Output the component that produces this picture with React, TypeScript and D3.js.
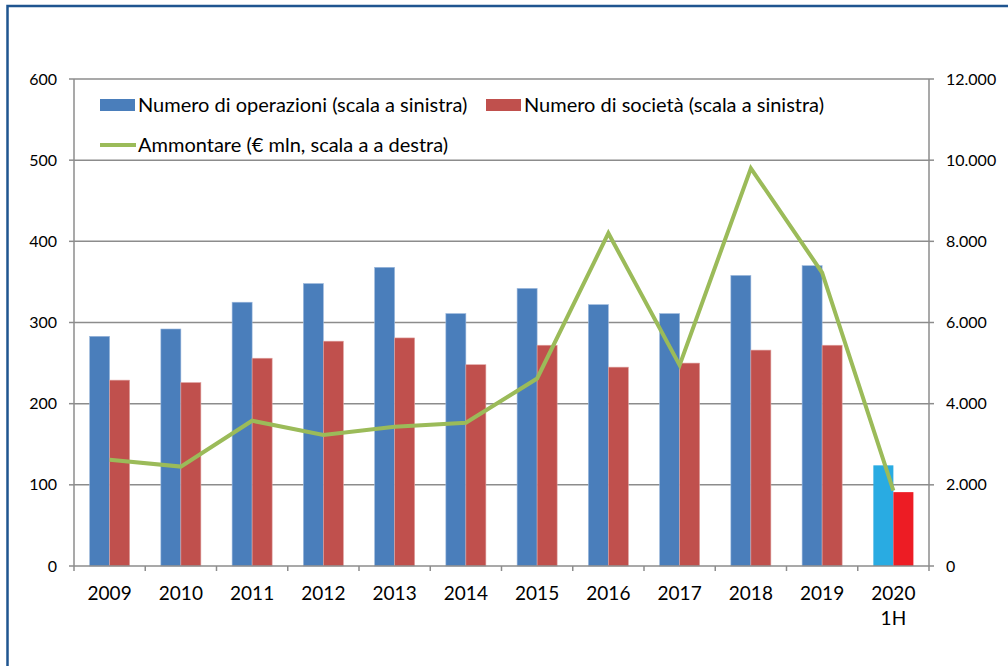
import React from "react";
import * as d3 from "d3";

const categories = ["2009", "2010", "2011", "2012", "2013", "2014", "2015", "2016", "2017", "2018", "2019", "2020\n1H"];
const operazioni = [283, 292, 325, 348, 368, 311, 342, 322, 311, 358, 370, 124];
const societa = [229, 226, 256, 277, 281, 248, 272, 245, 250, 266, 272, 91];
const ammontare = [2620, 2450, 3580, 3230, 3430, 3530, 4620, 8200, 4950, 9800, 7230, 1860];
const leftTicks = [0, 100, 200, 300, 400, 500, 600];
const rightTicks = [0, 2000, 4000, 6000, 8000, 10000, 12000];
const legendLabels = [
  "Numero di operazioni (scala a sinistra)",
  "Numero di società (scala a sinistra)",
  "Ammontare (€ mln, scala a a destra)",
];

const W = 1008;
const H = 666;
const M = { left: 74, right: 929, top: 79, bottom: 566 };
const BLUE = "#4a7ebb";
const RED = "#c0504d";
const BLUE_H = "#29abe2";
const RED_H = "#ed1c24";
const GREEN = "#9bbb59";
const GRID = "#8c8c8c";
const FONT = "Lato, 'Open Sans', sans-serif";

export default function App() {
  const x = d3.scaleBand<string>().domain(categories).range([M.left, M.right]).padding(0);
  const bw = x.bandwidth();
  const x1 = d3.scaleBand<string>().domain(["ops", "soc"]).range([0, bw]).paddingInner(0).paddingOuter(0.78);
  const yL = d3.scaleLinear().domain([0, 600]).range([M.bottom, M.top]);
  const yR = d3.scaleLinear().domain([0, 12000]).range([M.bottom, M.top]);
  const fmtR = (v: number) => d3.format(",")(v).replace(/,/g, ".");
  const line = d3
    .line<number>()
    .x((_, i) => (x(categories[i]) as number) + bw / 2)
    .y((d) => yR(d));
  const last = categories.length - 1;

  return (
    <svg
      width={W}
      height={H}
      style={{ position: "absolute", left: 0, top: 0, background: "#fff" }}
      fontFamily={FONT}
    >
      <rect x={7.5} y={6} width={W + 20} height={H + 20} fill="none" stroke="#1f5590" strokeWidth={2.5} />

      {/* gridlines */}
      {leftTicks.slice(1).map((t) => (
        <line key={"g" + t} x1={M.left} x2={M.right} y1={yL(t)} y2={yL(t)} stroke={GRID} strokeWidth={1.5} />
      ))}

      {/* bars */}
      {categories.map((c, i) => (
        <g key={"b" + c}>
          <rect
            x={(x(c) as number) + (x1("ops") as number)}
            y={yL(operazioni[i])}
            width={x1.bandwidth()}
            height={M.bottom - yL(operazioni[i])}
            fill={i === last ? BLUE_H : BLUE}
            stroke={i === last ? "none" : "#9db9dd"}
            strokeWidth={0.6}
          />
          <rect
            x={(x(c) as number) + (x1("soc") as number)}
            y={yL(societa[i])}
            width={x1.bandwidth()}
            height={M.bottom - yL(societa[i])}
            fill={i === last ? RED_H : RED}
            stroke={i === last ? "none" : "#e0a3a1"}
            strokeWidth={0.6}
          />
        </g>
      ))}

      {/* axes */}
      <line x1={M.left} x2={M.left} y1={M.top} y2={M.bottom} stroke={GRID} strokeWidth={1.5} />
      <line x1={M.right} x2={M.right} y1={M.top} y2={M.bottom} stroke={GRID} strokeWidth={1.5} />
      <line x1={M.left} x2={M.right} y1={M.bottom} y2={M.bottom} stroke={GRID} strokeWidth={1.5} />
      {leftTicks.map((t) => (
        <g key={"l" + t}>
          <line x1={M.left - 5} x2={M.left} y1={yL(t)} y2={yL(t)} stroke={GRID} strokeWidth={1.5} />
          <text x={57} y={yL(t)} dy="0.35em" textAnchor="end" fontSize={16} fill="#000">
            {t}
          </text>
        </g>
      ))}
      {rightTicks.map((t) => (
        <g key={"r" + t}>
          <line x1={M.right} x2={M.right + 5} y1={yR(t)} y2={yR(t)} stroke={GRID} strokeWidth={1.5} />
          <text x={946} y={yR(t)} dy="0.35em" textAnchor="start" fontSize={16} fill="#000">
            {fmtR(t)}
          </text>
        </g>
      ))}
      {[...categories.map((c) => x(c) as number), M.right].map((px, i) => (
        <line key={"t" + i} x1={px} x2={px} y1={M.bottom} y2={M.bottom + 5} stroke={GRID} strokeWidth={1.5} />
      ))}
      {categories.map((c) => (
        <text key={"c" + c} x={(x(c) as number) + bw / 2} y={600} textAnchor="middle" fontSize={19} fill="#000">
          {c.split("\n").map((s, j) => (
            <tspan key={j} x={(x(c) as number) + bw / 2} dy={j === 0 ? 0 : 25}>
              {s}
            </tspan>
          ))}
        </text>
      ))}

      {/* line */}
      <path d={line(ammontare) || ""} fill="none" stroke={GREEN} strokeWidth={4} strokeLinejoin="miter" />

      {/* legend */}
      <rect x={100} y={99} width={35} height={12} fill={BLUE} />
      <text x={138} y={105} dy="0.35em" fontSize={20} fill="#000">{legendLabels[0]}</text>
      <rect x={486} y={99} width={35} height={12} fill={RED} />
      <text x={524} y={105} dy="0.35em" fontSize={20} fill="#000">{legendLabels[1]}</text>
      <line x1={100} x2={136} y1={145} y2={145} stroke={GREEN} strokeWidth={4} />
      <text x={138} y={145} dy="0.35em" fontSize={20} fill="#000">{legendLabels[2]}</text>
    </svg>
  );
}
